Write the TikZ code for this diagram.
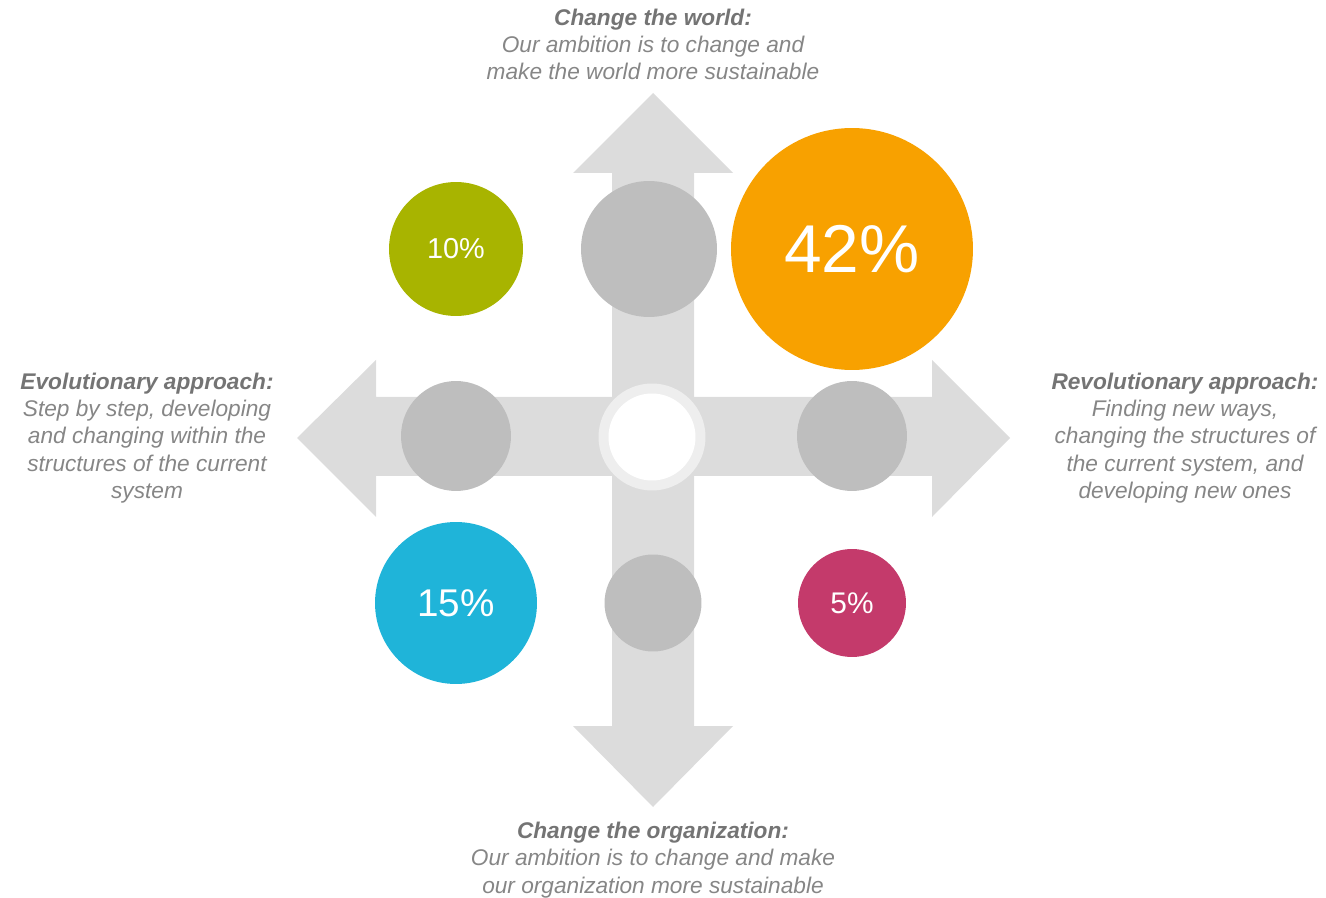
\documentclass[tikz,border=0pt]{standalone}
\usepackage{fontspec}
\setmainfont{Liberation Sans}
\definecolor{arrowgray}{HTML}{DCDCDC}
\definecolor{dotgray}{HTML}{BEBEBE}
\definecolor{ringgray}{HTML}{EEEEEE}
\definecolor{txtgray}{HTML}{868686}
\definecolor{titlegray}{HTML}{747474}
\definecolor{cgreen}{HTML}{A8B400}
\definecolor{corange}{HTML}{F8A100}
\definecolor{cblue}{HTML}{1FB4D9}
\definecolor{cmagenta}{HTML}{C43A6B}
\tikzset{
  dot/.style={circle, fill=dotgray, draw=none, inner sep=0pt},
  pct/.style={circle, draw=none, inner sep=0pt, text=white},
  desc/.style={align=center, text=txtgray, font=\fontsize{12.9pt}{15.5pt}\selectfont\itshape, inner sep=0pt},
}
\begin{document}
\begin{tikzpicture}[x=0.02cm, y=-0.02cm]
\useasboundingbox (0,0) rectangle (1326,898);
% arrows
\fill[arrowgray] (297,438) -- (376,360) -- (376,397) -- (932,397) -- (932,360) -- (1010,438)
  -- (932,517) -- (932,476) -- (376,476) -- (376,517) -- cycle;
\fill[arrowgray] (653,93) -- (733,173) -- (694,173) -- (694,726) -- (733,726) -- (653,807)
  -- (573,726) -- (612,726) -- (612,173) -- (573,173) -- cycle;
% gray dots
\node[dot, minimum size=2.72cm] (dtop) at (649,249) {};
\node[dot, minimum size=2.2cm] (dleft) at (456,436) {};
\node[dot, minimum size=2.2cm] (dright) at (852,436) {};
\node[dot, minimum size=1.94cm] (dbottom) at (653,603) {};
% center ring
\node[circle, fill=ringgray, minimum size=2.14cm, inner sep=0pt] (ring) at (652,437) {};
\node[circle, fill=white, minimum size=1.74cm, inner sep=0pt] (hub) at (652,437) {};
% percentage circles
\node[pct, fill=cgreen, minimum size=2.68cm, font=\fontsize{16.4pt}{18pt}\selectfont] (p10) at (456,249) {10\%};
\node[pct, fill=corange, minimum size=4.84cm, font=\fontsize{38.5pt}{44pt}\selectfont] (p42) at (852,249) {42\%};
\node[pct, fill=cblue, minimum size=3.24cm, font=\fontsize{22pt}{26pt}\selectfont] (p15) at (456,603) {15\%};
\node[pct, fill=cmagenta, minimum size=2.16cm, font=\fontsize{17pt}{20pt}\selectfont] (p5) at (852,603) {5\%};
% texts
\node[desc] (ttop) at (653,44.5) {{\color{titlegray}\bfseries Change the world:}\\Our ambition is to change and\\make the world more sustainable};
\node[desc] (tbottom) at (653,860) {{\color{titlegray}\bfseries Change the organization:}\\Our ambition is to change and make\\our organization more sustainable};
\node[desc] (tleft) at (147,438) {{\color{titlegray}\bfseries Evolutionary approach:}\\Step by step, developing\\and changing within the\\structures of the current\\system};
\node[desc] (tright) at (1185,438) {{\color{titlegray}\bfseries Revolutionary approach:}\\Finding new ways,\\changing the structures of\\the current system, and\\developing new ones};
\end{tikzpicture}
\end{document}
